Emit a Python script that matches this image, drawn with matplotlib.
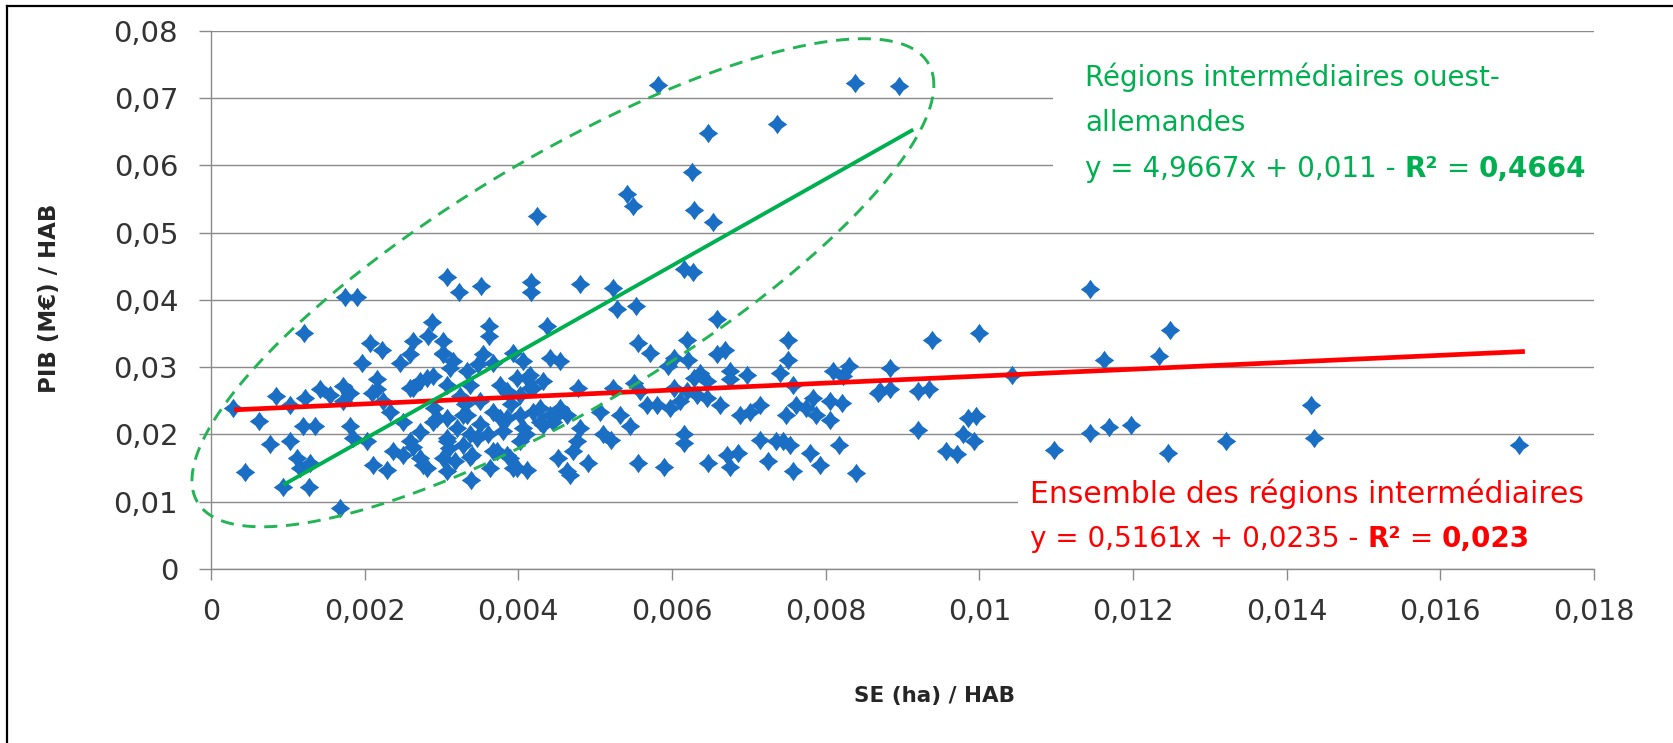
import matplotlib
matplotlib.use("Agg")
import matplotlib.pyplot as plt
import numpy as np
from matplotlib.lines import Line2D
from matplotlib.patches import Rectangle
from matplotlib.path import Path

W, H = 1674, 743

# SE (ha) / HAB  vs  PIB (M€) / HAB
se_ha_hab = [
    0.00582, 0.00838, 0.00895, 0.00647, 0.00737, 0.00626, 0.00542, 0.00549, 0.00424, 0.00629,
    0.00654, 0.00615, 0.00627, 0.00480, 0.00523, 0.00528, 0.00553, 0.00417, 0.00417, 0.00307,
    0.00323, 0.00351, 0.00175, 0.00190, 0.00121, 0.00287, 0.00283, 0.00362, 0.00362, 0.00207,
    0.00222, 0.00263, 0.00302, 0.00302, 0.00196, 0.00246, 0.00315, 0.00367, 0.00393,
    0.00029, 0.00085, 0.00103, 0.00122, 0.00142, 0.00155, 0.00172, 0.00181, 0.00172, 0.00216,
    0.00216, 0.00209, 0.00224, 0.00263, 0.00272, 0.00289, 0.00307, 0.00333, 0.00337, 0.00348,
    0.00376, 0.00387, 0.00411, 0.00415,
    0.00062, 0.00077, 0.00103, 0.00120, 0.00135, 0.00112, 0.00129, 0.00116, 0.00044, 0.00094,
    0.00127, 0.00168, 0.00181, 0.00185, 0.00203, 0.00211, 0.00229, 0.00237, 0.00250, 0.00263,
    0.00276, 0.00289, 0.00307, 0.00320, 0.00328, 0.00337, 0.00307, 0.00302, 0.00307, 0.00339,
    0.00363, 0.00372, 0.00389, 0.00393, 0.00411, 0.00367, 0.00385, 0.00419, 0.00406,
    0.00437, 0.00658, 0.00619, 0.00751, 0.00556, 0.00571, 0.00441, 0.00454, 0.00406, 0.00602,
    0.00595, 0.00621, 0.00658, 0.00669, 0.00751, 0.00740, 0.00810, 0.00831, 0.00823, 0.00636,
    0.00628, 0.00645, 0.00675, 0.00675, 0.00697, 0.00478, 0.00523, 0.00550, 0.00558, 0.00602,
    0.00619, 0.00758, 0.00415, 0.00432, 0.00402, 0.00428, 0.00441, 0.00454, 0.00463, 0.00432,
    0.00445, 0.00506, 0.00532, 0.00545, 0.00567, 0.00580, 0.00597, 0.00610, 0.00632, 0.00645,
    0.00662, 0.00688, 0.00701, 0.00714, 0.00749, 0.00762, 0.00775, 0.00788, 0.00784, 0.00805,
    0.00805, 0.00821, 0.00868,
    0.00480, 0.00476, 0.00471, 0.00510, 0.00521, 0.00615, 0.00615, 0.00714, 0.00736, 0.00745,
    0.00753, 0.00818, 0.00452, 0.00467, 0.00491, 0.00556, 0.00589, 0.00647, 0.00671, 0.00686,
    0.00675, 0.00725, 0.00758, 0.00779, 0.00792, 0.00840,
    0.01144, 0.00938, 0.01000, 0.01248, 0.00884, 0.01162, 0.01234, 0.01043, 0.00871, 0.00884,
    0.00920, 0.00935, 0.00920, 0.00985, 0.00996, 0.00979, 0.00993, 0.00956, 0.00971, 0.01097,
    0.01144, 0.01169, 0.01198, 0.01245, 0.01321, 0.01432, 0.01436, 0.01702,
    0.00259, 0.00281, 0.00311, 0.00294, 0.00333, 0.00307, 0.00328, 0.00346, 0.00385, 0.00398,
    0.00419, 0.00376, 0.00402, 0.00428, 0.00450, 0.00259, 0.00272, 0.00281, 0.00367, 0.00385,
    0.00398, 0.00463, 0.00302, 0.00259, 0.00354, 0.00250, 0.00272, 0.00233, 0.00350, 0.00324,
    0.00402, 0.00317, 0.00337,
    0.00360, 0.00380, 0.00410, 0.00350, 0.00330, 0.00290, 0.00390, 0.00310, 0.00340,
]
pib_meur_hab = [
    0.0719, 0.0723, 0.0718, 0.0648, 0.0661, 0.0590, 0.0558, 0.0540, 0.0524, 0.0533,
    0.0515, 0.0446, 0.0442, 0.0423, 0.0418, 0.0387, 0.0391, 0.0426, 0.0411, 0.0434,
    0.0411, 0.0421, 0.0404, 0.0404, 0.0351, 0.0367, 0.0346, 0.0361, 0.0346, 0.0336,
    0.0325, 0.0339, 0.0339, 0.0321, 0.0306, 0.0306, 0.0309, 0.0306, 0.0321,
    0.0239, 0.0257, 0.0244, 0.0254, 0.0267, 0.0259, 0.0272, 0.0262, 0.0249, 0.0282,
    0.0267, 0.0262, 0.0249, 0.0269, 0.0279, 0.0287, 0.0274, 0.0294, 0.0274, 0.0304,
    0.0274, 0.0262, 0.0284, 0.0269,
    0.0220, 0.0186, 0.0190, 0.0212, 0.0212, 0.0165, 0.0157, 0.0150, 0.0144, 0.0122,
    0.0122, 0.0090, 0.0212, 0.0194, 0.0190, 0.0155, 0.0147, 0.0175, 0.0170, 0.0182,
    0.0155, 0.0219, 0.0224, 0.0209, 0.0229, 0.0200, 0.0194, 0.0165, 0.0145, 0.0132,
    0.0150, 0.0175, 0.0165, 0.0150, 0.0147, 0.0234, 0.0224, 0.0234, 0.0209,
    0.0361, 0.0371, 0.0341, 0.0341, 0.0336, 0.0321, 0.0314, 0.0309, 0.0309, 0.0314,
    0.0301, 0.0311, 0.0319, 0.0326, 0.0311, 0.0291, 0.0294, 0.0301, 0.0287, 0.0291,
    0.0284, 0.0279, 0.0294, 0.0282, 0.0289, 0.0269, 0.0269, 0.0277, 0.0264, 0.0269,
    0.0264, 0.0274, 0.0289, 0.0279, 0.0259, 0.0239, 0.0229, 0.0239, 0.0229, 0.0214,
    0.0219, 0.0234, 0.0229, 0.0212, 0.0244, 0.0244, 0.0239, 0.0249, 0.0259, 0.0254,
    0.0244, 0.0229, 0.0234, 0.0244, 0.0229, 0.0244, 0.0239, 0.0229, 0.0254, 0.0249,
    0.0222, 0.0247, 0.0262,
    0.0209, 0.0190, 0.0175, 0.0200, 0.0192, 0.0200, 0.0187, 0.0192, 0.0190, 0.0190,
    0.0185, 0.0185, 0.0165, 0.0140, 0.0157, 0.0157, 0.0152, 0.0157, 0.0170, 0.0172,
    0.0152, 0.0160, 0.0145, 0.0172, 0.0155, 0.0142,
    0.0416, 0.0341, 0.0351, 0.0355, 0.0298, 0.0310, 0.0317, 0.0289, 0.0264, 0.0267,
    0.0264, 0.0267, 0.0206, 0.0224, 0.0228, 0.0200, 0.0190, 0.0176, 0.0171, 0.0177,
    0.0202, 0.0211, 0.0214, 0.0172, 0.0190, 0.0243, 0.0194, 0.0185,
    0.0269, 0.0284, 0.0299, 0.0224, 0.0229, 0.0190, 0.0185, 0.0194, 0.0264, 0.0284,
    0.0269, 0.0224, 0.0229, 0.0219, 0.0229, 0.0190, 0.0165, 0.0150, 0.0175, 0.0170,
    0.0150, 0.0145, 0.0319, 0.0319, 0.0319, 0.0219, 0.0204, 0.0234, 0.0249, 0.0257,
    0.0190, 0.0160, 0.0167,
    0.0200, 0.0205, 0.0200, 0.0215, 0.0245, 0.0240, 0.0245, 0.0180, 0.0170,
]

# trend lines as drawn
all_fit_x = [0.0003, 0.0171]
all_fit_slope, all_fit_icpt = 0.5161, 0.0235
west_fit_x = [0.00094, 0.00914]
west_fit_y = [0.0125, 0.0653]

# dashed ellipse round the west-German group: centre + two conjugate half-axes
ell_center = (0.00458, 0.04254)
ell_u = (0.004828, 0.02940)
ell_v = (0.0, 0.02124)

x_ticks = [0, 0.002, 0.004, 0.006, 0.008, 0.01, 0.012, 0.014, 0.016, 0.018]
x_tick_labels = ["0", "0,002", "0,004", "0,006", "0,008", "0,01", "0,012", "0,014", "0,016", "0,018"]
y_ticks = [0, 0.01, 0.02, 0.03, 0.04, 0.05, 0.06, 0.07, 0.08]
y_tick_labels = ["0", "0,01", "0,02", "0,03", "0,04", "0,05", "0,06", "0,07", "0,08"]

BLUE = "#1a6ec4"
GREEN = "#00b050"
RED = "#ff0000"
GRID = "#8a8a8a"
TXT = "#333333"
FS = 20

plt.rcParams["font.family"] = ["DejaVu Sans"]

fig = plt.figure(figsize=(W / 100, H / 100), dpi=100)
ax = fig.add_axes([211 / W, 1 - 569 / H, (1594 - 211) / W, (569 - 30.7) / H])

ax.set_xlim(0, 0.018)
ax.set_ylim(0, 0.08)
ax.set_xticks(x_ticks)
ax.set_xticklabels(x_tick_labels)
ax.set_yticks(y_ticks)
ax.set_yticklabels(y_tick_labels)
ax.tick_params(axis="y", length=8.6, width=1.0, color=GRID, pad=15, labelsize=21, labelcolor=TXT)
ax.tick_params(axis="x", length=8, width=1.0, color=GRID, pad=13, labelsize=20.5, labelcolor=TXT)
for side in ("top", "right"):
    ax.spines[side].set_visible(False)
for side in ("left", "bottom"):
    ax.spines[side].set_color(GRID)
    ax.spines[side].set_linewidth(1.0)
ax.set_axisbelow(True)
ax.yaxis.grid(True, color=GRID, linewidth=1.0)

# white boxes behind the two annotations (they hide the gridlines)
ax.add_patch(Rectangle((1053 / W, 1 - 200 / H), 560 / W, 160 / H, transform=fig.transFigure,
                       facecolor="white", edgecolor="none", zorder=1, clip_on=False))
ax.add_patch(Rectangle((1018 / W, 1 - 562 / H), 600 / W, 112 / H, transform=fig.transFigure,
                       facecolor="white", edgecolor="none", zorder=1, clip_on=False))

# Excel-like diamond with slightly hollow sides
k = 0.42
diamond = Path([(0, 1), (k, k), (1, 0), (k, -k), (0, -1), (-k, -k), (-1, 0), (-k, k), (0, 1)],
               [Path.MOVETO] + [Path.LINETO] * 7 + [Path.CLOSEPOLY])
ax.scatter(se_ha_hab, pib_meur_hab, marker=diamond, s=14 ** 2, color=BLUE, linewidths=0, zorder=2)

fx = np.array(all_fit_x)
ax.plot(fx, all_fit_slope * fx + all_fit_icpt, color=RED, linewidth=3.4, solid_capstyle="butt", zorder=3)
ax.plot(west_fit_x, west_fit_y, color=GREEN, linewidth=2.8, solid_capstyle="butt", zorder=3)

t = np.linspace(0, 2 * np.pi, 400)
ex = ell_center[0] + ell_u[0] * np.cos(t) + ell_v[0] * np.sin(t)
ey = ell_center[1] + ell_u[1] * np.cos(t) + ell_v[1] * np.sin(t)
ax.plot(ex, ey, color="#22b455", linewidth=2.1, dashes=(4.5, 3.0), clip_on=False, zorder=3)


def _rich_text(x_px, y_px, parts, color, size=FS):
    renderer = fig.canvas.get_renderer()
    x = x_px
    for s, weight in parts:
        txt = fig.text(x / W, 1 - y_px / H, s, color=color, fontsize=size, fontweight=weight,
                       ha="left", va="baseline")
        x += txt.get_window_extent(renderer).width


_rich_text(1085, 86, [("Régions intermédiaires ouest-", "normal")], GREEN)
_rich_text(1085, 131, [("allemandes", "normal")], GREEN)
_rich_text(1085, 177, [("y = 4,9667x + 0,011 - ", "normal"), ("R²", "bold"), (" = ", "normal"), ("0,4664", "bold")], GREEN)
_rich_text(1030, 503, [("Ensemble des régions intermédiaires", "normal")], RED, 21.5)
_rich_text(1030, 547, [("y = 0,5161x + 0,0235 - ", "normal"), ("R²", "bold"), (" = ", "normal"), ("0,023", "bold")], RED)

fig.text(935 / W, 1 - 696 / H, "SE (ha) / HAB", fontsize=15.5, fontweight="bold", color="#262626",
         ha="center", va="center")
fig.text(50 / W, 1 - 298 / H, "PIB (M€) / HAB", fontsize=16.5, fontweight="bold", color="#262626",
         ha="center", va="center", rotation=90)

# frame of the screenshot (top and left edges)
fig.add_artist(Line2D([7 / W, 7 / W], [0, 1 - 6 / H], color="black", linewidth=1.6))
fig.add_artist(Line2D([7 / W, 1], [1 - 6 / H, 1 - 6 / H], color="black", linewidth=1.6))

fig.savefig("out.png", dpi=100)
